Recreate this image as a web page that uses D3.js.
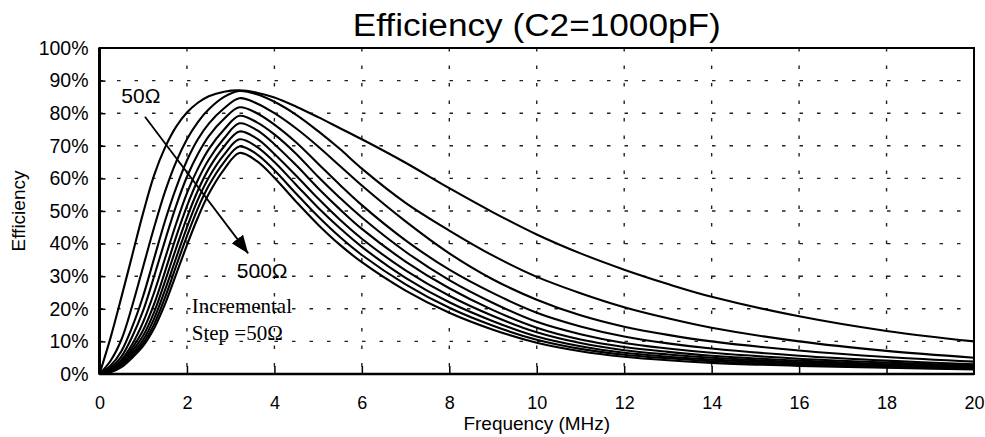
<!DOCTYPE html>
<html>
<head>
<meta charset="utf-8">
<script src="https://cdn.jsdelivr.net/npm/d3@7"></script>
<style>
  body { margin: 0; background: #fff; }
  svg text { font-family: "Liberation Sans", Arial, sans-serif; fill: #000; }
  .serif { font-family: "Liberation Serif", "Times New Roman", serif; }
</style>
</head>
<body>
<div id="chart"></div>
<script>
// frequency samples (MHz)
const freq = [0, 0.25, 0.5, 0.75, 1, 1.25, 1.5, 1.75, 2, 2.25, 2.5, 2.85, 3.2, 3.6, 4, 4.5, 5, 5.5, 6, 7, 8, 9, 10, 11, 12, 13, 14, 16, 18, 20];

// efficiency (%) for each load, 50 ohm .. 500 ohm in 50 ohm steps
const r50  = [0, 11, 23.5, 36.5, 49.5, 61, 69.5, 75.8, 80.2, 83.2, 85.2, 86.6, 87, 86.3, 84.8, 82, 78.8, 75.4, 72, 64.8, 57, 49.6, 42.8, 37, 32, 27.6, 23.7, 17.7, 13.2, 10];
const r100 = [0, 4, 10.5, 21, 33, 45, 56, 65, 72, 77.3, 81.2, 85, 86.8, 85.8, 83.5, 79.5, 74.5, 69, 63, 52.5, 44, 36.3, 29.8, 24.8, 20.5, 17.1, 14.2, 10, 7.1, 5];
const r150 = [0, 2.5, 7, 14.5, 24, 35.5, 47, 57, 65.5, 72, 76.8, 81.5, 84.6, 83, 80, 75.3, 69.8, 63.8, 57.8, 46.8, 37, 29, 22.8, 18, 14.5, 12, 10, 7.2, 5.2, 3.8];
const r200 = [0, 1.8, 5.3, 11.5, 19.5, 30, 41, 51.5, 60.5, 67.5, 73, 78.3, 81.8, 80, 76.5, 71, 64.5, 58, 51.8, 41, 32, 24.8, 18.8, 14.6, 11.5, 9.4, 7.8, 5.6, 4.1, 3.0];
const r250 = [0, 1.3, 4.3, 9.2, 16, 25, 35.5, 46, 55.5, 63, 69, 75, 79.2, 77.2, 73.5, 67.5, 60.5, 54, 48, 37.5, 28.8, 21.8, 16, 12.2, 9.5, 7.8, 6.5, 4.7, 3.5, 2.6];
const r300 = [0, 1, 3.6, 8, 13.5, 21.5, 31.5, 42, 51.5, 59.5, 65.8, 72.3, 76.9, 74.8, 70.5, 64, 57, 50.5, 44.5, 34.5, 26.3, 19.6, 14.2, 10.6, 8.3, 6.8, 5.6, 4.1, 3.0, 2.3];
const r350 = [0, 0.8, 3.0, 7, 11.8, 19, 28.5, 38.5, 48, 56.3, 63, 69.8, 74.4, 72.2, 67.5, 60.8, 53.8, 47.3, 41.5, 31.8, 24, 17.8, 12.8, 9.5, 7.3, 6, 5.0, 3.6, 2.7, 2.0];
const r400 = [0, 0.7, 2.7, 6.2, 10.5, 17, 25.8, 35.5, 45, 53.5, 60.3, 67.3, 72, 69.7, 65, 58, 51, 44.7, 39, 29.5, 22, 16.2, 11.5, 8.5, 6.5, 5.3, 4.4, 3.2, 2.4, 1.8];
const r450 = [0, 0.6, 2.4, 5.6, 9.5, 15.3, 23.5, 33, 42.3, 50.8, 57.8, 65, 69.8, 67.4, 62.5, 55.3, 48.3, 42, 36.5, 27.5, 20.3, 14.8, 10.5, 7.7, 5.9, 4.8, 3.9, 2.8, 2.1, 1.6];
const r500 = [0, 0.5, 2.1, 5, 8.6, 14, 21.5, 30.5, 39.5, 48, 55.3, 62.8, 67.8, 65.3, 60.2, 52.8, 45.8, 39.6, 34.3, 25.6, 18.8, 13.6, 9.6, 7, 5.3, 4.2, 3.4, 2.5, 1.9, 1.4];

const series = [r50, r100, r150, r200, r250, r300, r350, r400, r450, r500];

const xTicks = [0, 2, 4, 6, 8, 10, 12, 14, 16, 18, 20];
const yTicks = [0, 10, 20, 30, 40, 50, 60, 70, 80, 90, 100];

const W = 985, H = 437;
const margin = {top: 48, right: 11, bottom: 63, left: 99.5};
const width = W - margin.left - margin.right,
      height = H - margin.top - margin.bottom;

const svg = d3.select("#chart")
    .append("svg")
    .attr("width", W)
    .attr("height", H);

const g = svg.append("g")
    .attr("transform", `translate(${margin.left},${margin.top})`);

const x = d3.scaleLinear().domain([0, 20]).range([0, width]);
const y = d3.scaleLinear().domain([0, 100]).range([height, 0]);

// dashed grid
g.append("g")
    .selectAll("line")
    .data(yTicks.slice(1, -1))
    .join("line")
    .attr("x1", 0).attr("x2", width)
    .attr("y1", d => y(d)).attr("y2", d => y(d))
    .attr("stroke", "#222")
    .attr("stroke-width", 1.4)
    .attr("stroke-dasharray", "3.5,14");

g.append("g")
    .selectAll("line")
    .data(xTicks.slice(1, -1))
    .join("line")
    .attr("x1", d => x(d)).attr("x2", d => x(d))
    .attr("y1", 0).attr("y2", height)
    .attr("stroke", "#222")
    .attr("stroke-width", 1.4)
    .attr("stroke-dasharray", "3.5,14");

// axes, ticks pointing inward
const xAxis = g.append("g")
    .attr("transform", `translate(0,${height})`)
    .call(d3.axisBottom(x).tickValues(xTicks).tickSize(-8).tickPadding(22).tickSizeOuter(0));

const yAxis = g.append("g")
    .call(d3.axisLeft(y).tickValues(yTicks).tickSize(-6).tickPadding(11).tickSizeOuter(0)
        .tickFormat(d => d + "%"));

[xAxis, yAxis].forEach(a => {
    a.select(".domain").remove();
    a.selectAll(".tick line").attr("stroke", "#000").attr("stroke-width", 1.5);
    a.selectAll("text").attr("fill", "#000");
});
xAxis.selectAll("text").style("font-size", "18px");
yAxis.selectAll("text").style("font-size", "19.5px");
xAxis.selectAll(".tick").filter(d => d === 0 || d === 20).select("line").remove();
yAxis.selectAll(".tick").filter(d => d === 0 || d === 100).select("line").remove();

// frame
g.append("rect")
    .attr("width", width).attr("height", height)
    .attr("fill", "none")
    .attr("stroke", "#000")
    .attr("stroke-width", 2);
g.append("line")
    .attr("x1", 0).attr("x2", 0).attr("y1", 0).attr("y2", height)
    .attr("stroke", "#000").attr("stroke-width", 3);
g.append("line")
    .attr("x1", 0).attr("x2", width).attr("y1", height).attr("y2", height)
    .attr("stroke", "#000").attr("stroke-width", 2.5);

// curves
const line = d3.line()
    .x((d, i) => x(freq[i]))
    .y(d => y(d))
    .curve(d3.curveCatmullRom.alpha(0.5));

g.append("g")
    .selectAll("path")
    .data(series)
    .join("path")
    .attr("fill", "none")
    .attr("stroke", "#000")
    .attr("stroke-width", 2.1)
    .attr("d", line);

// annotations (data units)
const arrowFrom = [1.04, 78.9], arrowTo = [3.4, 37.0];

svg.append("defs").append("marker")
    .attr("id", "head")
    .attr("viewBox", "0 0 10 10")
    .attr("refX", 10).attr("refY", 5)
    .attr("markerWidth", 10).attr("markerHeight", 8)
    .attr("markerUnits", "strokeWidth")
    .attr("orient", "auto")
    .attr("preserveAspectRatio", "none")
    .append("path")
    .attr("d", "M0,0 L10,5 L0,10 z")
    .attr("fill", "#000");

g.append("line")
    .attr("x1", x(arrowFrom[0])).attr("y1", y(arrowFrom[1]))
    .attr("x2", x(arrowTo[0])).attr("y2", y(arrowTo[1]))
    .attr("stroke", "#000")
    .attr("stroke-width", 1.8)
    .attr("marker-end", "url(#head)");

g.append("text")
    .attr("x", x(0.5)).attr("y", y(83.2))
    .style("font-size", "21px")
    .text("50Ω");

g.append("text")
    .attr("x", x(3.14)).attr("y", y(29.4))
    .style("font-size", "21px")
    .text("500Ω");

g.append("text")
    .attr("class", "serif")
    .attr("x", x(2.11)).attr("y", y(18.7))
    .style("font-size", "21px")
    .text("Incremental");

g.append("text")
    .attr("class", "serif")
    .attr("x", x(2.11)).attr("y", y(10.4))
    .style("font-size", "21px")
    .text("Step =50Ω");

// titles
svg.append("text")
    .attr("x", margin.left + width / 2)
    .attr("y", 36)
    .attr("text-anchor", "middle")
    .style("font-size", "31px")
    .attr("textLength", 368)
    .attr("lengthAdjust", "spacingAndGlyphs")
    .text("Efficiency (C2=1000pF)");

svg.append("text")
    .attr("x", margin.left + width / 2)
    .attr("y", 430)
    .attr("text-anchor", "middle")
    .style("font-size", "19px")
    .text("Frequency (MHz)");

svg.append("text")
    .attr("transform", `translate(25,${margin.top + height / 2}) rotate(-90)`)
    .attr("text-anchor", "middle")
    .style("font-size", "19px")
    .text("Efficiency");
</script>
</body>
</html>
